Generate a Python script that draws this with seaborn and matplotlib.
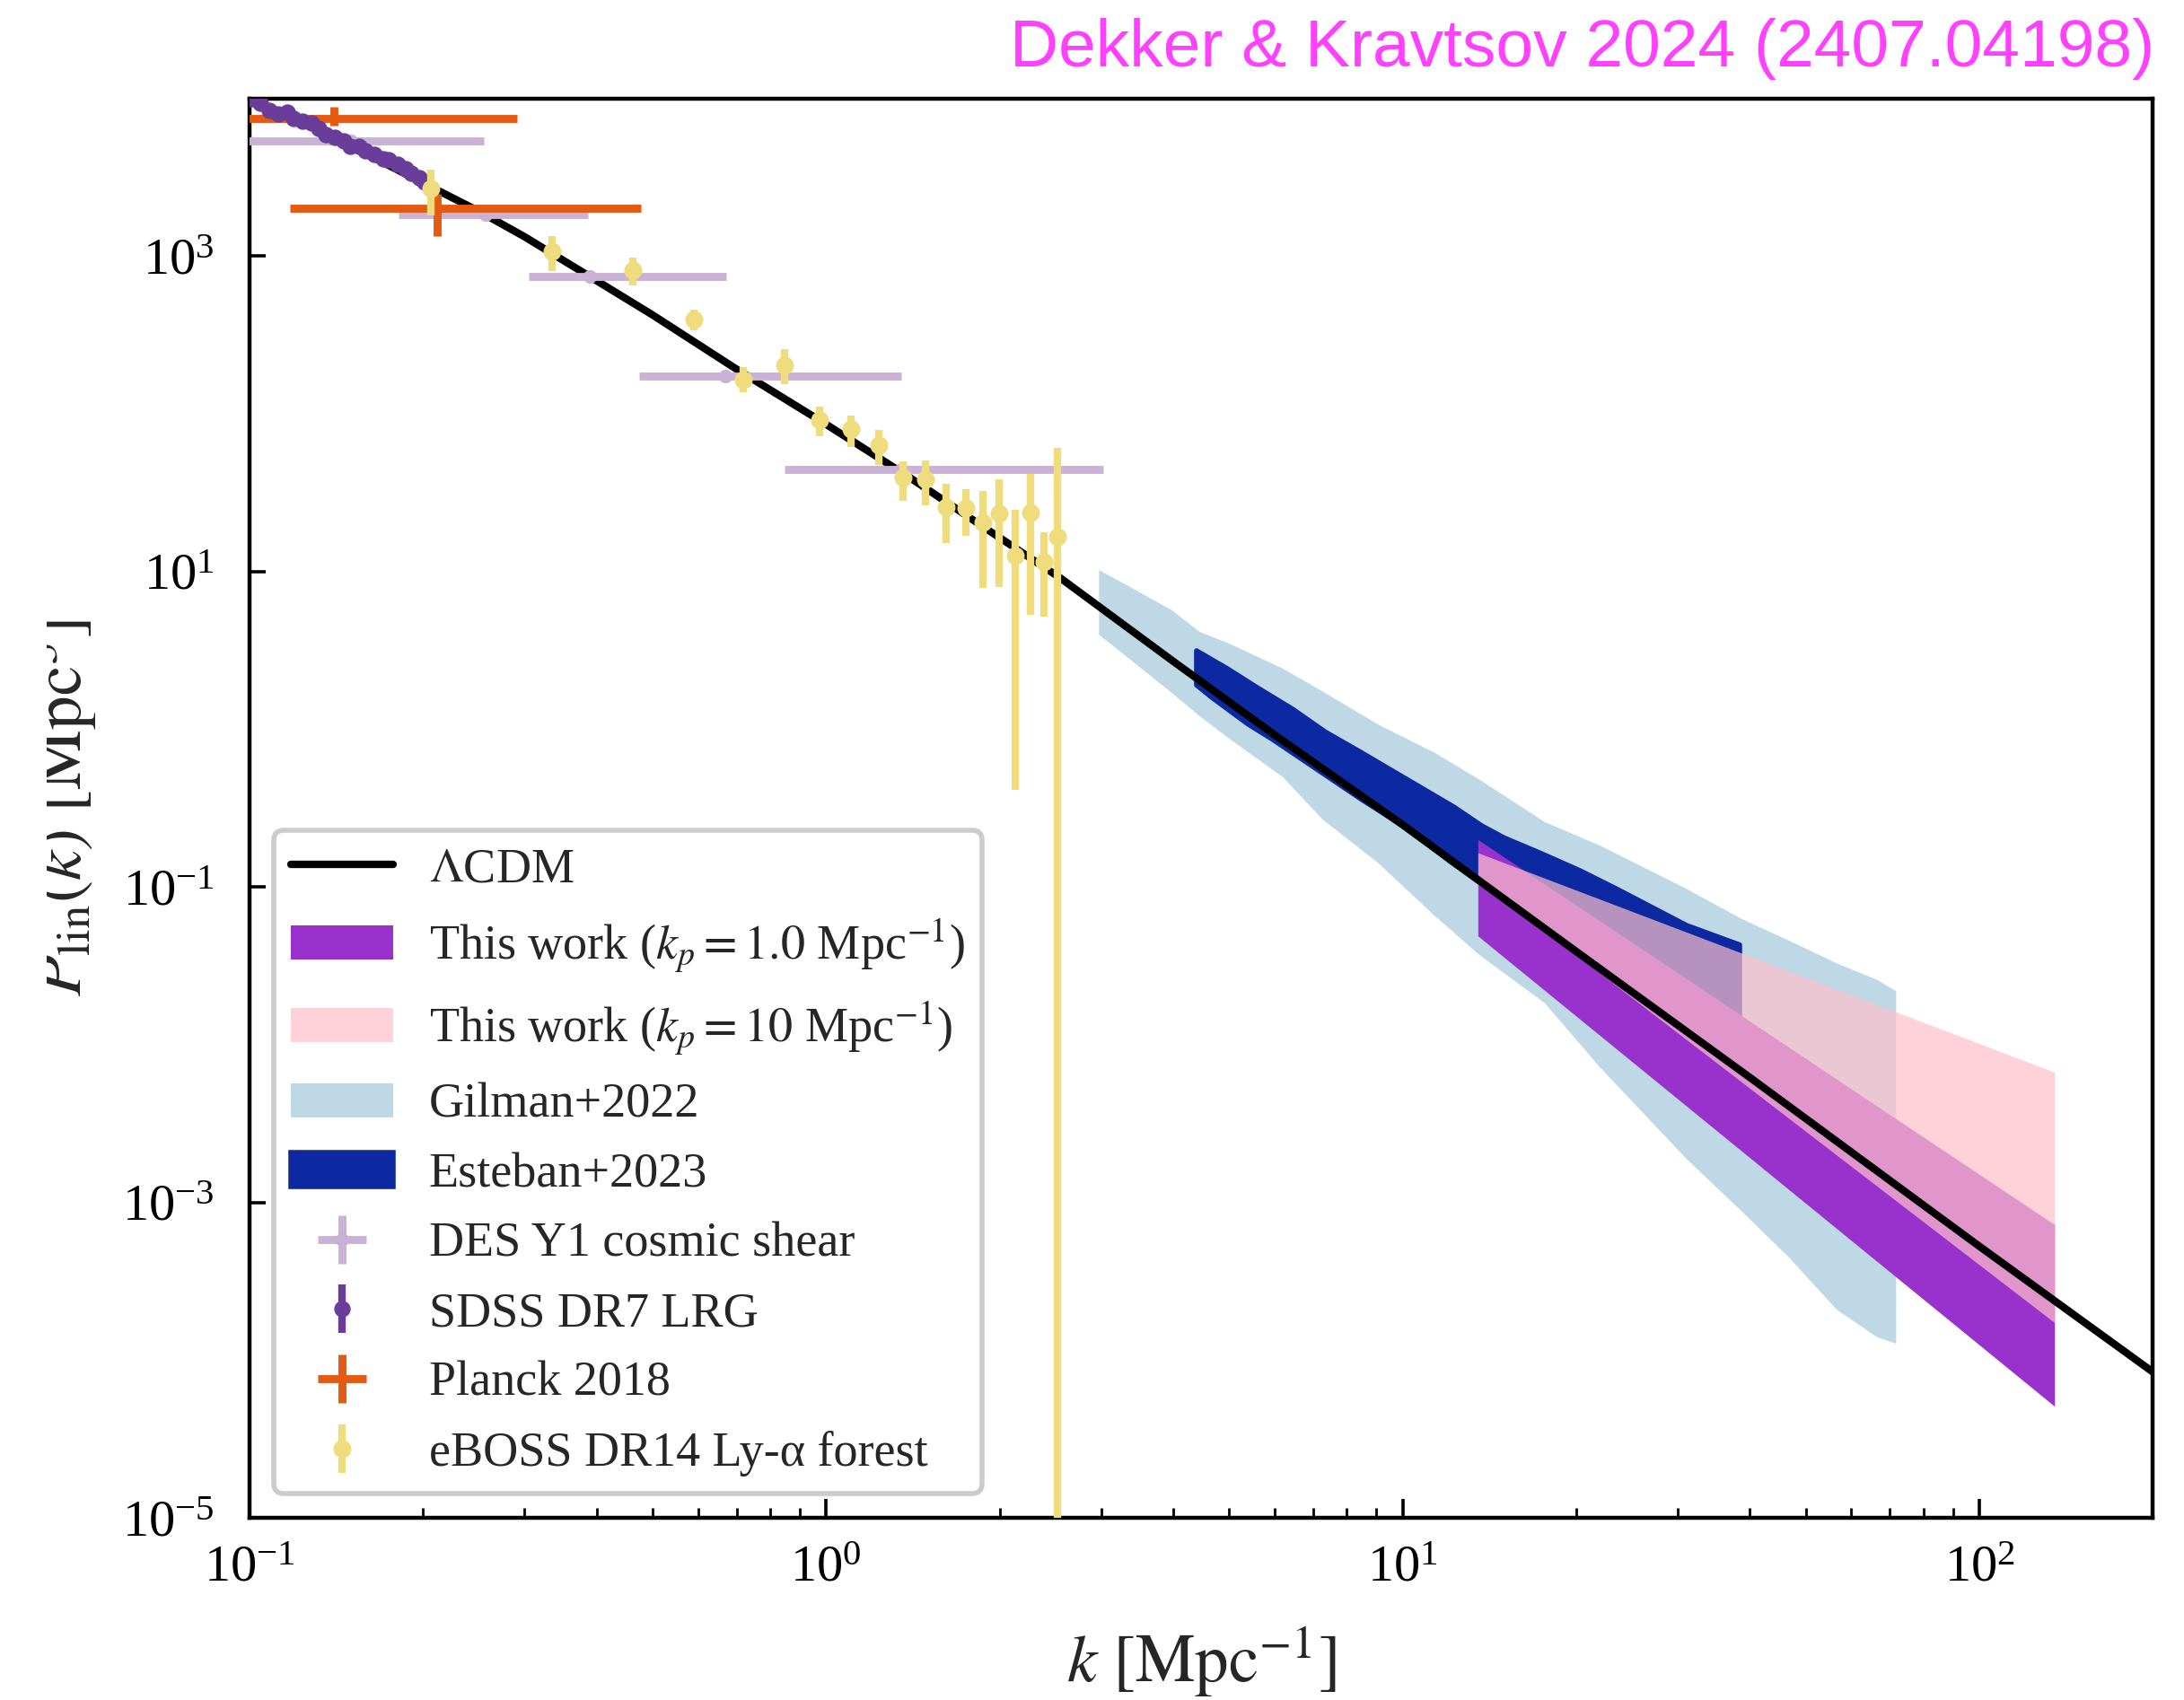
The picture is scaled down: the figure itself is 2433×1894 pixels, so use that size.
import numpy as np
import matplotlib
matplotlib.use("Agg")
import matplotlib.pyplot as plt
import seaborn as sns
from matplotlib.ticker import FixedLocator, NullLocator, LogFormatterSciNotation, LogLocator
from matplotlib.transforms import Bbox, TransformedBbox

# ---------------- data ----------------
# Linear LCDM power spectrum
k_lcdm = np.array([0.1, 0.12, 0.15, 0.2, 0.25, 0.3, 0.39, 0.5, 0.7, 1.0, 1.4, 1.9,
                   2.55, 4.0, 6.0, 10.0, 20.0, 40.0, 100.0, 200.0])
P_lcdm = np.array([9950, 7450, 5000, 2920, 1930, 1330, 741, 425, 192, 86, 39.3, 18.6,
                   9.1, 2.7, 0.92, 0.248, 0.039, 0.0062, 5.27e-4, 8.4e-5])

# This work, k_p = 1.0 Mpc^-1
k_tw1 = np.array([13.5, 135.0])
P_tw1_hi = np.array([0.20, 7.24e-4])
P_tw1_lo = np.array([0.049, 5.1e-5])

# This work, k_p = 10 Mpc^-1
k_tw10 = np.array([13.5, 135.0])
P_tw10_hi = np.array([0.165, 6.7e-3])
P_tw10_lo = np.array([0.112, 1.73e-4])

# Gilman+2022
k_gil = np.array([2.97, 3.35, 3.98, 4.45, 4.97, 6.19, 7.25, 9.05, 11.3, 13.6, 17.6, 21.9,
                  31.0, 38.7, 46.7, 56.5, 66.3, 71.6])
P_gil_hi = np.array([10.3, 8.1, 5.7, 4.15, 3.55, 2.44, 1.75, 1.08, 0.72, 0.48, 0.26, 0.185,
                     0.098, 0.063, 0.046, 0.033, 0.026, 0.022])
P_gil_lo = np.array([4.0, 2.82, 1.7, 1.21, 0.89, 0.50, 0.27, 0.143, 0.067, 0.037, 0.0185,
                     0.0073, 0.0019, 8.8e-4, 4.5e-4, 2.1e-4, 1.41e-4, 1.28e-4])

# Esteban+2023 (upper and lower edges)
k_est_hi = np.array([4.39, 4.96, 5.58, 6.45, 7.35, 8.38, 9.56, 10.9, 12.3, 13.7, 15.0, 17.4,
                     20.3, 23.4, 31.1, 38.4])
P_est_hi = np.array([3.15, 2.43, 1.85, 1.34, 0.96, 0.73, 0.55, 0.415, 0.32, 0.245, 0.205,
                     0.163, 0.127, 0.098, 0.057, 0.043])
k_est_lo = np.array([4.39, 4.66, 5.39, 5.93, 7.09, 8.48, 10.2, 12.1, 13.5, 38.4])
P_est_lo = np.array([1.91, 1.60, 1.08, 0.87, 0.56, 0.36, 0.234, 0.145, 0.109, 0.0063])

# DES Y1 cosmic shear
k_des = np.array([0.15, 0.2566, 0.389, 0.668, 1.35])
k_des_lo = np.array([0.088, 0.1817, 0.3055, 0.474, 0.846])
k_des_hi = np.array([0.255, 0.386, 0.671, 1.35, 3.02])
P_des = np.array([5410, 1830, 741, 173, 44.7])
P_des_err = np.array([300, 110, 45, 11, 3.0])

# SDSS DR7 LRG
k_sdss = np.array([0.1008, 0.1044, 0.1083, 0.1122, 0.1163, 0.1192, 0.1235, 0.1280, 0.1319,
                   0.1359, 0.1408, 0.1460, 0.1495, 0.1550, 0.1588, 0.1645, 0.1705, 0.1746,
                   0.1810, 0.1865, 0.1910, 0.1968, 0.2015])
P_sdss = np.array([9975, 9340, 8375, 8017, 8180, 7500, 7190, 7030, 6440, 5900, 5650, 5410,
                   4960, 4960, 4645, 4445, 4160, 4075, 3815, 3575, 3375, 3135, 2940])
P_sdss_err = 0.04 * P_sdss

# Planck 2018
k_planck = np.array([0.140, 0.212])
k_planck_lo = np.array([0.06, 0.1174])
k_planck_hi = np.array([0.291, 0.477])
P_planck = np.array([7450, 2020])
P_planck_lo = np.array([6750, 1350])
P_planck_hi = np.array([8830, 2470])

# eBOSS DR14 Ly-alpha forest
k_eboss = np.array([0.2066, 0.3348, 0.4624, 0.5907, 0.718, 0.847, 0.975, 1.103, 1.233,
                    1.361, 1.489, 1.616, 1.748, 1.868, 1.998, 2.131, 2.264, 2.391, 2.521])
P_eboss = np.array([2690, 1075, 820, 397, 164, 204, 91.2, 80.0, 63.6, 39.7, 38.5, 25.6,
                    25.3, 20.4, 23.5, 12.6, 23.8, 11.5, 16.6])
P_eboss_lo = np.array([1815, 809, 656, 338, 138, 154, 72.3, 61.5, 47.6, 28.0, 26.2, 15.2,
                       16.9, 7.9, 8.0, 0.413, 5.3, 5.2, 1e-7])
P_eboss_hi = np.array([3530, 1337, 985, 459, 197, 256, 112, 98, 78.9, 50.1, 50.5, 35.9,
                       33.2, 32.6, 38.4, 24.5, 41.9, 17.7, 60.7])

# ---------------- style ----------------
W, H, DPI = 2433, 1894, 200
sns.set_style("ticks")
plt.rcParams.update({
    "font.family": ["Liberation Serif", "DejaVu Serif"],
    "mathtext.fontset": "stix",
    "axes.linewidth": 1.6,
    "xtick.direction": "in",
    "ytick.direction": "in",
    "xtick.major.size": 7.5,
    "xtick.minor.size": 4.0,
    "ytick.major.size": 6.5,
    "xtick.major.width": 1.3,
    "xtick.minor.width": 1.0,
    "ytick.major.width": 1.3,
    "xtick.labelsize": 21,
    "ytick.labelsize": 21,
    "xtick.major.pad": 11,
    "ytick.major.pad": 14,
    "xtick.color": "black",
    "ytick.color": "black",
    "axes.edgecolor": "black",
})

c_purple = "darkorchid"
c_pink = "pink"
c_gil = "#bfd8e6"
c_est = "#0d29a1"
c_des = "#cab2d6"
c_sdss = "#6a3d9a"
c_planck = "#e35a12"
c_eboss = "#efdc7c"

fig = plt.figure(figsize=(W / DPI, H / DPI), dpi=DPI)
ax = fig.add_axes([0.11418, 0.10718, 0.87159, 0.83485])
ax.set_xscale("log")
ax.set_yscale("log")

# bands
h_gil = ax.fill_between(k_gil, P_gil_lo, P_gil_hi, color=c_gil, lw=0, zorder=1.0,
                        label="Gilman+2022")
h_est = ax.fill(np.r_[k_est_hi, k_est_lo[::-1]], np.r_[P_est_hi, P_est_lo[::-1]],
                fc=c_est, ec=c_est, lw=2.0, joinstyle="round", zorder=1.1,
                label="Esteban+2023")[0]
h_tw1 = ax.fill_between(k_tw1, P_tw1_lo, P_tw1_hi, color=c_purple, lw=0, zorder=1.2,
                        label=r"This work ($k_p = 1.0$ Mpc$^{-1}$)")
h_tw10 = ax.fill_between(k_tw10, P_tw10_lo, P_tw10_hi, color=c_pink, alpha=0.7, lw=0,
                         zorder=1.3, label=r"This work ($k_p = 10$ Mpc$^{-1}$)")

# LCDM curve
sns.lineplot(x=k_lcdm, y=P_lcdm, color="black", lw=3.0, ax=ax, zorder=3,
             label=r"$\Lambda$CDM", legend=False)
h_lcdm = ax.get_lines()[-1]

# data points
h_des = ax.errorbar(k_des, P_des, xerr=[k_des - k_des_lo, k_des_hi - k_des],
                    yerr=P_des_err, fmt="o", ms=4.5, color=c_des, elinewidth=3.2,
                    capsize=0, zorder=4, label="DES Y1 cosmic shear")
h_planck = ax.errorbar(k_planck, P_planck,
                       xerr=[k_planck - k_planck_lo, k_planck_hi - k_planck],
                       yerr=[P_planck - P_planck_lo, P_planck_hi - P_planck],
                       fmt="none", color=c_planck, elinewidth=3.2, capsize=0, zorder=4.1,
                       label="Planck 2018")
h_sdss = ax.errorbar(k_sdss, P_sdss, yerr=P_sdss_err, fmt="o", ms=5.6, color=c_sdss,
                     elinewidth=3.0, capsize=0, zorder=4.2, label="SDSS DR7 LRG")
h_eboss = ax.errorbar(k_eboss, P_eboss, yerr=[P_eboss - P_eboss_lo, P_eboss_hi - P_eboss],
                      fmt="o", ms=6.2, color=c_eboss, elinewidth=3.0, capsize=0,
                      zorder=4.3, label="eBOSS DR14 Ly-\u03b1 forest")

# axes
ax.set_xlim(0.1, 200)
ax.set_ylim(1e-5, 1e4)
ax.xaxis.set_major_locator(LogLocator(base=10, numticks=10))
ax.xaxis.set_minor_locator(LogLocator(base=10, subs=np.arange(2, 10), numticks=50))
ax.yaxis.set_major_locator(FixedLocator([1e-5, 1e-3, 1e-1, 1e1, 1e3]))
ax.yaxis.set_major_formatter(LogFormatterSciNotation())
ax.yaxis.set_minor_locator(NullLocator())
ax.tick_params(which="both", top=False, right=False)
for s in ax.spines.values():
    s.set_visible(True)
    s.set_color("black")

ax.set_xlabel(r"$k\ [\mathrm{Mpc}^{-1}]$", fontsize=27, labelpad=13)
ylab = ax.set_ylabel(r"$P_{\rm lin}(k)\ [\mathrm{Mpc}^{3}]$", fontsize=27)
ax.yaxis.set_label_coords(-0.079, 0.5)
ylab.set_clip_box(TransformedBbox(Bbox.from_extents(52 / W, 0, 1, 1), fig.transFigure))
ylab.set_clip_on(True)

handles = [h_lcdm, h_tw1, h_tw10, h_gil, h_est, h_des, h_sdss, h_planck, h_eboss]
labels = [r"$\Lambda$CDM", r"This work ($k_p = 1.0$ Mpc$^{-1}$)",
          r"This work ($k_p = 10$ Mpc$^{-1}$)", "Gilman+2022", "Esteban+2023",
          "DES Y1 cosmic shear", "SDSS DR7 LRG", "Planck 2018",
          "eBOSS DR14 Ly-\u03b1 forest"]
leg = ax.legend(handles, labels, loc="lower left", fontsize=19.5, frameon=True,
                fancybox=True, framealpha=1.0, edgecolor="#cccccc",
                handlelength=2.1, handletextpad=0.74, labelspacing=0.5,
                borderpad=0.35, borderaxespad=0.5)
leg.get_frame().set_linewidth(2.0)
leg.set_zorder(10)

# attribution
title_family = ["Liberation Sans Narrow", "Liberation Sans", "DejaVu Sans"]
fig.text(2400 / W, 1 - 74 / H, "Dekker & Kravtsov 2024 (2407.04198)", ha="right",
         va="baseline", color="#ff40ff", fontsize=27, family=title_family)

fig.savefig("out.png", dpi=DPI)
